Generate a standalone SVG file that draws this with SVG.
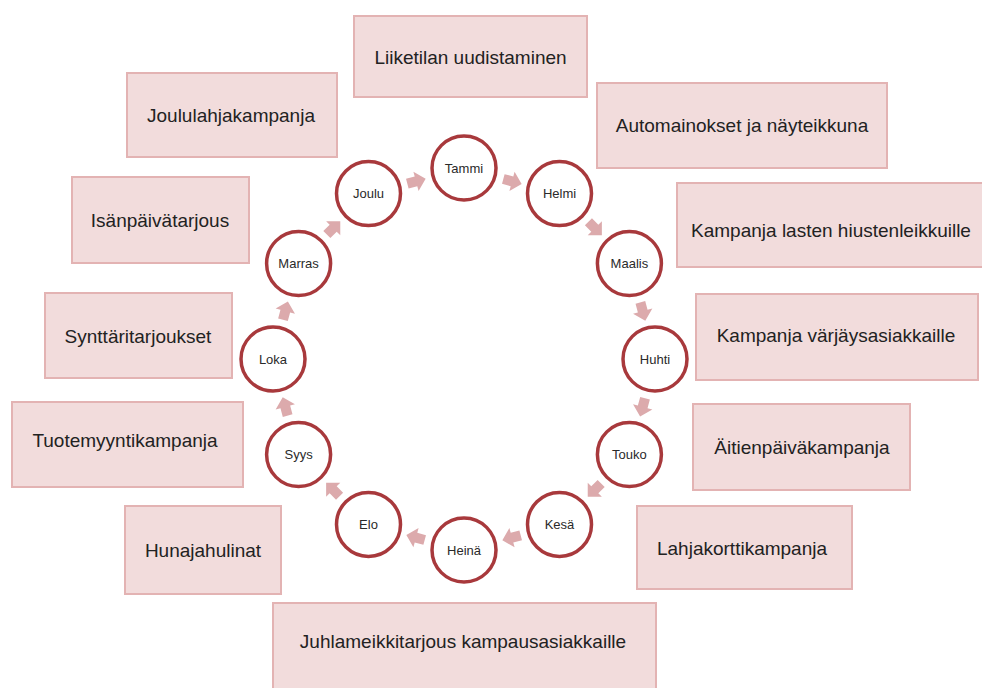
<svg xmlns="http://www.w3.org/2000/svg" width="982" height="688" viewBox="0 0 982 688">
<style>
.box rect{fill:#f2dcdc;stroke:#e3b3b3;stroke-width:2}
.box text{font-family:"Liberation Sans",Arial,sans-serif;font-size:19px;fill:#222222;text-anchor:middle}
.m circle{fill:#ffffff;stroke:#a8393c;stroke-width:3.5}
.m text{font-family:"Liberation Sans",Arial,sans-serif;font-size:13px;fill:#2a2a2a;text-anchor:middle}
.arr{fill:#dcaaac}
</style>
<defs>
<path id="ar" d="M-9,-5 H0 V-10 L10,0 L0,10 V5 H-9 Z"/>
</defs>
<rect width="982" height="688" fill="#ffffff"/>
<g id="box-liiketila" class="box"><rect x="354" y="16" width="233" height="81"/><text x="470.5" y="64">Liiketilan uudistaminen</text></g>
<g id="box-automainokset" class="box"><rect x="597" y="83" width="290" height="85"/><text x="742" y="132">Automainokset ja näyteikkuna</text></g>
<g id="box-lasten" class="box"><rect x="677" y="183" width="308" height="84"/><text x="831" y="237">Kampanja lasten hiustenleikkuille</text></g>
<g id="box-varjays" class="box"><rect x="696" y="294" width="282" height="86"/><text x="836" y="342">Kampanja värjäysasiakkaille</text></g>
<g id="box-aitienpaiva" class="box"><rect x="693" y="404" width="217" height="86"/><text x="802" y="454">Äitienpäiväkampanja</text></g>
<g id="box-lahjakortti" class="box"><rect x="637" y="506" width="215" height="83"/><text x="742" y="555">Lahjakorttikampanja</text></g>
<g id="box-juhlameikki" class="box"><rect x="273" y="603" width="383" height="90"/><text x="463" y="648">Juhlameikkitarjous kampausasiakkaille</text></g>
<g id="box-hunaja" class="box"><rect x="125" y="506" width="156" height="88"/><text x="203" y="557">Hunajahulinat</text></g>
<g id="box-tuotemyynti" class="box"><rect x="12" y="402" width="231" height="85"/><text x="125" y="447">Tuotemyyntikampanja</text></g>
<g id="box-synttari" class="box"><rect x="45" y="293" width="187" height="85"/><text x="138" y="343">Synttäritarjoukset</text></g>
<g id="box-isanpaiva" class="box"><rect x="72" y="177" width="177" height="86"/><text x="160" y="227">Isänpäivätarjous</text></g>
<g id="box-joululahja" class="box"><rect x="127" y="73" width="210" height="84"/><text x="231" y="122">Joululahjakampanja</text></g>
<g id="connectors" class="arr">
<use href="#ar" transform="translate(512,181.3) rotate(15)"/>
<use href="#ar" transform="translate(594.8,228.2) rotate(45)"/>
<use href="#ar" transform="translate(642.7,311.1) rotate(75)"/>
<use href="#ar" transform="translate(642.7,406.9) rotate(105)"/>
<use href="#ar" transform="translate(594.8,489.8) rotate(135)"/>
<use href="#ar" transform="translate(512,537.7) rotate(165)"/>
<use href="#ar" transform="translate(416,537.7) rotate(195)"/>
<use href="#ar" transform="translate(333.2,489.8) rotate(225)"/>
<use href="#ar" transform="translate(285.3,406.9) rotate(255)"/>
<use href="#ar" transform="translate(285.3,311.1) rotate(285)"/>
<use href="#ar" transform="translate(333.2,228.2) rotate(315)"/>
<use href="#ar" transform="translate(416,181.3) rotate(345)"/>
</g>
<g id="m-tammi" class="m"><circle cx="464" cy="168" r="32"/><text x="464" y="172.5">Tammi</text></g>
<g id="m-helmi" class="m"><circle cx="559.5" cy="193.6" r="32"/><text x="559.5" y="198">Helmi</text></g>
<g id="m-maalis" class="m"><circle cx="629.4" cy="263.5" r="32"/><text x="629.4" y="268">Maalis</text></g>
<g id="m-huhti" class="m"><circle cx="655" cy="359" r="32"/><text x="655" y="363.5">Huhti</text></g>
<g id="m-touko" class="m"><circle cx="629.4" cy="454.5" r="32"/><text x="629.4" y="459">Touko</text></g>
<g id="m-kesa" class="m"><circle cx="559.5" cy="524.4" r="32"/><text x="559.5" y="529">Kesä</text></g>
<g id="m-heina" class="m"><circle cx="464" cy="550" r="32"/><text x="464" y="554.5">Heinä</text></g>
<g id="m-elo" class="m"><circle cx="368.5" cy="524.4" r="32"/><text x="368.5" y="529">Elo</text></g>
<g id="m-syys" class="m"><circle cx="298.6" cy="454.5" r="32"/><text x="298.6" y="459">Syys</text></g>
<g id="m-loka" class="m"><circle cx="273" cy="359" r="32"/><text x="273" y="363.5">Loka</text></g>
<g id="m-marras" class="m"><circle cx="298.6" cy="263.5" r="32"/><text x="298.6" y="268">Marras</text></g>
<g id="m-joulu" class="m"><circle cx="368.5" cy="193.6" r="32"/><text x="368.5" y="198">Joulu</text></g>
</svg>
